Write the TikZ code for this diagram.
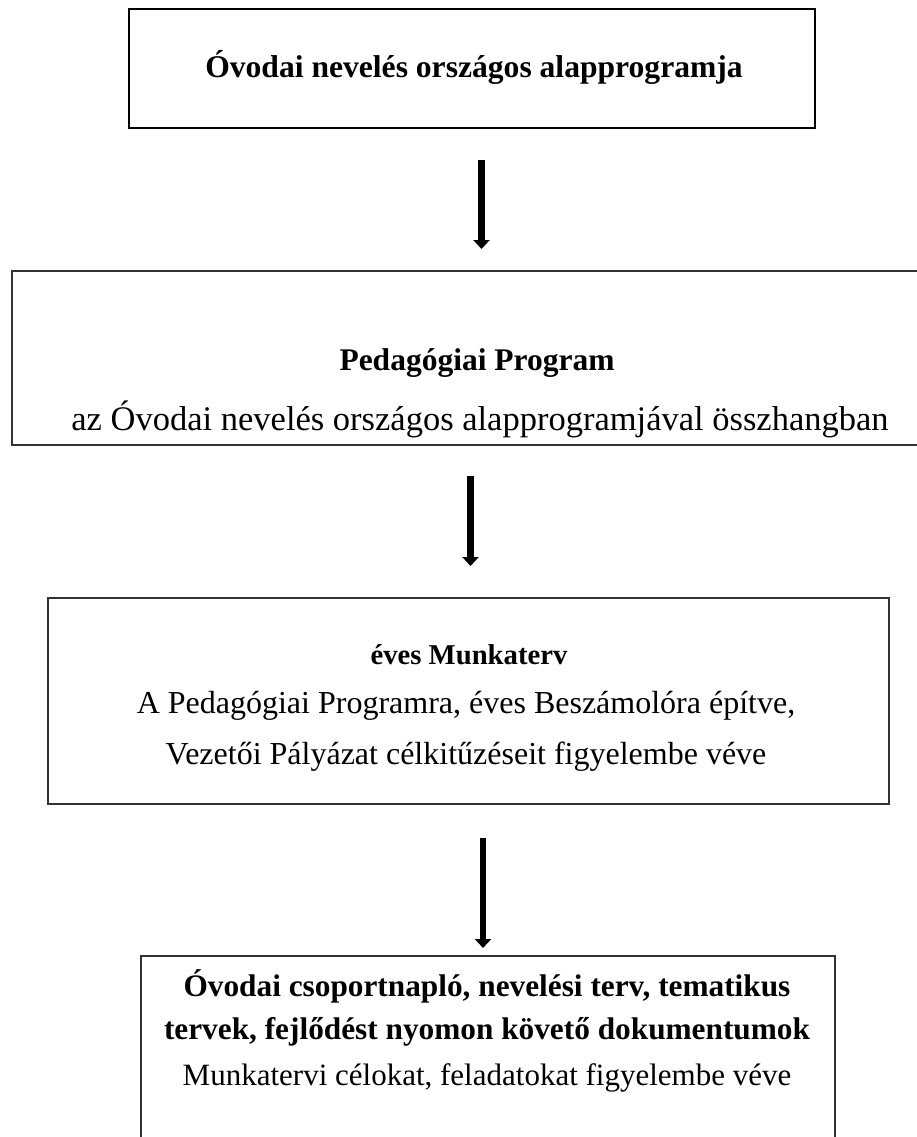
\documentclass[tikz,border=0pt]{standalone}
\usepackage{fontspec}
\setmainfont{Liberation Serif}
\usetikzlibrary{arrows.meta}
\tikzset{
  box/.style={draw=black!80, line width=1.6pt, rectangle, inner sep=0pt, anchor=north west},
  txt/.style={inner sep=0pt, align=center},
  flow/.style={line width=6.5pt, -{Triangle[width=16pt,length=9pt]}}
}
\begin{document}
\begin{tikzpicture}[x=1pt,y=-1pt]
\useasboundingbox (0,0) rectangle (917,1137);
\clip (0,0) rectangle (917,1137);
% boxes
\node[box, line width=2.2pt, draw=black, minimum width=686pt, minimum height=119pt] (b1) at (128,8) {};
\node[box, minimum width=920pt, minimum height=174pt] (b2) at (11,270) {};
\node[box, minimum width=841pt, minimum height=206pt] (b3) at (47,597) {};
\node[box, minimum width=694pt, minimum height=260pt] (b4) at (140,955) {};
% texts
\node[txt, font=\fontsize{31.6}{36}\selectfont] (t1) at (474,67) {\textbf{Óvodai nevelés országos alapprogramja}};
\node[txt, font=\fontsize{31.5}{36}\selectfont] (t2a) at (477,363) {\textbf{Pedagógiai Program}};
\node[txt, font=\fontsize{34.5}{40}\selectfont] (t2b) at (480,419) {az Óvodai nevelés országos alapprogramjával összhangban};
\node[txt, font=\fontsize{28.7}{34}\selectfont] (t3a) at (469,655) {\textbf{éves Munkaterv}};
\node[txt, font=\fontsize{32}{38}\selectfont] (t3b) at (466,706) {A Pedagógiai Programra, éves Beszámolóra építve,};
\node[txt, font=\fontsize{32}{38}\selectfont] (t3c) at (466,757) {Vezetői Pályázat célkitűzéseit figyelembe véve};
\node[txt, font=\fontsize{31.3}{36}\selectfont] (t4a) at (487,986) {\textbf{Óvodai csoportnapló, nevelési terv, tematikus}};
\node[txt, font=\fontsize{31.3}{36}\selectfont] (t4b) at (487,1032) {\textbf{tervek, fejlődést nyomon követő dokumentumok}};
\node[txt, font=\fontsize{31}{36}\selectfont] (t4c) at (487,1078) {Munkatervi célokat, feladatokat figyelembe véve};
% arrows
\coordinate (a1s) at (481.5,160);
\coordinate (a1e) at (481.5,249);
\coordinate (a2s) at (470.5,476);
\coordinate (a2e) at (470.5,566);
\coordinate (a3s) at (483,838);
\coordinate (a3e) at (483,948);
\draw[flow] (a1s) -- (a1e);
\draw[flow] (a2s) -- (a2e);
\draw[flow] (a3s) -- (a3e);
\end{tikzpicture}
\end{document}
